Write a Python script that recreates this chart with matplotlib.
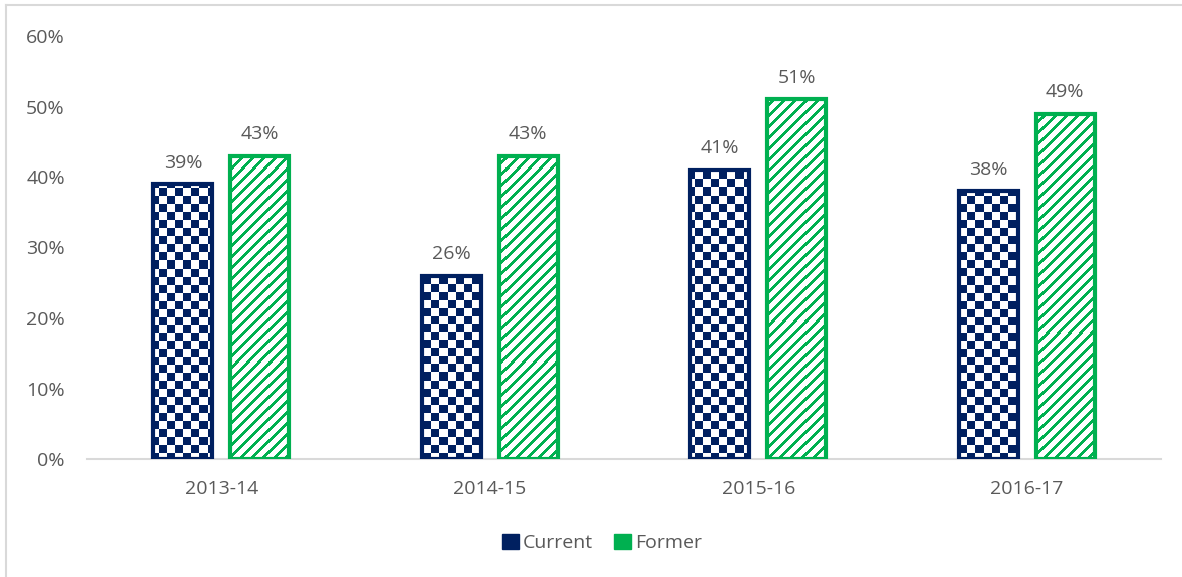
import matplotlib
matplotlib.use("Agg")
import matplotlib.pyplot as plt
import numpy as np
from matplotlib.lines import Line2D
from matplotlib.patches import Patch

years = ["2013-14", "2014-15", "2015-16", "2016-17"]
current = [39, 26, 41, 38]
former = [43, 43, 51, 49]
y_ticks = [0, 10, 20, 30, 40, 50, 60]

NAVY = "#002060"
GREEN = "#00B050"
GRAY_TXT = "#595959"
GRAY_LINE = "#D9D9D9"
FS = 14

plt.rcParams["font.family"] = ["Open Sans", "DejaVu Sans"]

W, H = 1182, 577
fig = plt.figure(figsize=(W / 100, H / 100), dpi=100)
left, right, bottom, top = 87 / W, 1161 / W, 1 - 459 / H, 1 - 36 / H
ax = fig.add_axes([left, bottom, right - left, top - bottom])

x = np.arange(len(years))
bw = 0.22
off = 0.143
xlim = (-0.5, len(years) - 0.5)
ylim = (0, 60)

bars_cur = ax.bar(x - off, current, bw, facecolor="none", edgecolor=NAVY, linewidth=3, zorder=3)
bars_for = ax.bar(x + off, former, bw, facecolor="none", edgecolor=GREEN, linewidth=3, zorder=3)

# pattern textures in (roughly) screen pixels, clipped to each bar
pw, ph = int((right - left) * W), int((top - bottom) * H)
yy, xx = np.mgrid[0:ph, 0:pw]


def texture(mask, color):
    rgb = np.array(matplotlib.colors.to_rgb(color))
    img = np.ones((ph, pw, 3))
    img[mask] = rgb
    return img


checker = texture(((xx // 8 + yy // 8) % 2) == 0, NAVY)
stripes = texture(((xx + yy) % 11) < 4, GREEN)

for bars, img in ((bars_cur, checker), (bars_for, stripes)):
    for b in bars:
        im = ax.imshow(img, extent=(*xlim, *ylim), origin="upper", aspect="auto",
                       interpolation="nearest", zorder=2)
        im.set_clip_path(b)

ax.bar_label(bars_cur, labels=[f"{v}%" for v in current], padding=9, fontsize=FS, color=GRAY_TXT)
ax.bar_label(bars_for, labels=[f"{v}%" for v in former], padding=9, fontsize=FS, color=GRAY_TXT)

ax.set_xlim(*xlim)
ax.set_ylim(*ylim)
ax.set_xticks(x)
ax.set_xticklabels(years)
ax.set_yticks(y_ticks)
ax.set_yticklabels([f"{v}%" for v in y_ticks])
ax.tick_params(axis="both", length=0, labelsize=FS, labelcolor=GRAY_TXT)
ax.tick_params(axis="y", pad=16)
ax.tick_params(axis="x", pad=15)
for s in ("top", "right", "left"):
    ax.spines[s].set_visible(False)
ax.spines["bottom"].set_color(GRAY_LINE)
ax.spines["bottom"].set_linewidth(1.5)
ax.spines["bottom"].set_zorder(1)

handles = [Patch(facecolor=NAVY, edgecolor=NAVY, label="Current"),
           Patch(facecolor=GREEN, edgecolor=GREEN, label="Former")]
fig.legend(handles=handles, loc="center", bbox_to_anchor=(602 / W, 1 - 543 / H), ncol=2,
           frameon=False, fontsize=FS, labelcolor=GRAY_TXT, handlelength=0.85, handleheight=0.85,
           handletextpad=0.2, columnspacing=1.1)

# outer chart border (top and left edges visible in crop)
fig.add_artist(Line2D([6 / W, 1], [1 - 5 / H, 1 - 5 / H], color=GRAY_LINE, linewidth=1.5))
fig.add_artist(Line2D([6 / W, 6 / W], [0, 1 - 5 / H], color=GRAY_LINE, linewidth=1.5))

fig.savefig("out.png", dpi=100)
